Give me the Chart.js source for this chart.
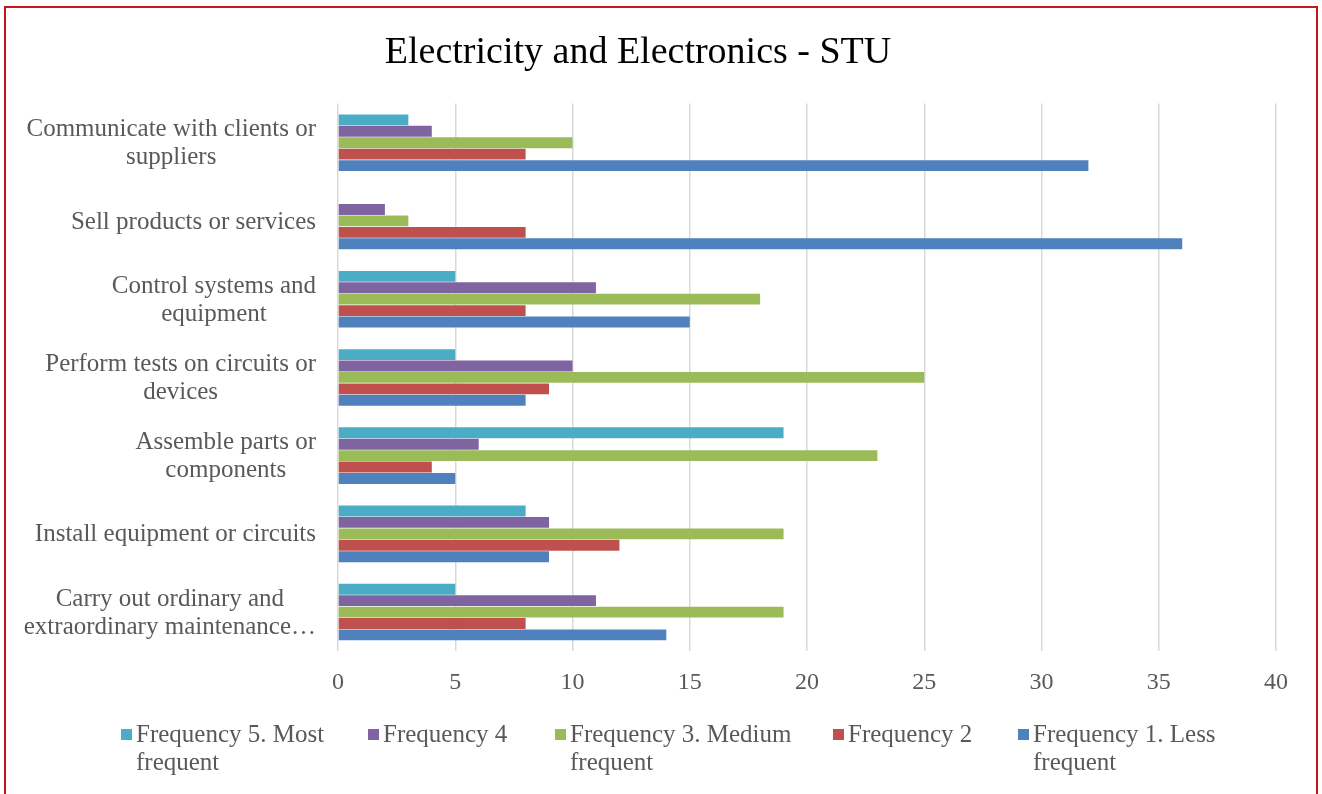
<!DOCTYPE html>
<html>
<head>
<meta charset="utf-8">
<script src="https://cdn.jsdelivr.net/npm/chart.js@4/dist/chart.umd.min.js"></script>
<style>
  body { margin: 0; background: #fff; }
  #wrap { position: relative; width: 1322px; height: 794px; overflow: hidden; font-family: "Liberation Serif", serif; }
  #frame { position: absolute; left: 4px; top: 6px; width: 1314px; height: 800px; border: 2px solid #c4161c; box-sizing: border-box; }
  #legend .item { position: absolute; top: 720px; display: flex; align-items: flex-start; color: #595959; font-size: 25px; line-height: 28px; }
  #legend .swatch { width: 11px; height: 11px; margin-top: 9px; margin-right: 4px; flex: none; }
</style>
</head>
<body>
<div id="wrap">
  <canvas id="myChart" width="1322" height="794"></canvas>
  <div id="frame"></div>
  <div id="legend"></div>
</div>
<script>
// data
const categories = [
  ['Communicate with clients or', 'suppliers'],
  ['Sell products or services'],
  ['Control systems and', 'equipment'],
  ['Perform tests on circuits or', 'devices'],
  ['Assemble parts or', 'components'],
  ['Install equipment or circuits'],
  ['Carry out ordinary and', 'extraordinary maintenance…']
]
const seriesNames = [
  'Frequency 5. Most frequent',
  'Frequency 4',
  'Frequency 3. Medium frequent',
  'Frequency 2',
  'Frequency 1. Less frequent'
]
const freq5 = [3, 0, 5, 5, 19, 8, 5]
const freq4 = [4, 2, 11, 10, 6, 9, 11]
const freq3 = [10, 3, 18, 25, 23, 19, 19]
const freq2 = [8, 8, 8, 9, 4, 12, 8]
const freq1 = [32, 36, 15, 8, 5, 9, 14]
const xTicks = [0, 5, 10, 15, 20, 25, 30, 35, 40]

// styles
const colors = ['#4bacc6', '#8064a2', '#9bbb59', '#c0504d', '#4f81bd']
const textColor = '#595959'
const fontFamily = '"Liberation Serif", serif'

// y labels drawn centered line by line, block right aligned
const yLabelPlugin = {
  id: 'yLabels',
  afterDraw(chart) {
    const ctx = chart.ctx
    const yScale = chart.scales.y
    ctx.save()
    ctx.font = '25px ' + fontFamily
    ctx.fillStyle = textColor
    ctx.textAlign = 'center'
    ctx.textBaseline = 'middle'
    categories.forEach((lines, i) => {
      const y = yScale.getPixelForValue(i)
      const maxW = Math.max(...lines.map(l => ctx.measureText(l).width))
      const cx = 316 - maxW / 2
      lines.forEach((line, j) => {
        ctx.fillText(line, cx, y + 1 + (j - (lines.length - 1) / 2) * 28)
      })
    })
    ctx.restore()
  }
}

const datasets = [freq5, freq4, freq3, freq2, freq1].map((data, i) => ({
  label: seriesNames[i],
  data,
  backgroundColor: colors[i],
  borderWidth: 0,
  categoryPercentage: 0.73,
  barPercentage: 0.95
}))

// init chart
const ctx = document.getElementById('myChart')
new Chart(ctx, {
  type: 'bar',
  data: { labels: categories.map(c => c.join(' ')), datasets },
  options: {
    indexAxis: 'y',
    responsive: false,
    animation: false,
    layout: { padding: { top: 0, right: 46, bottom: 80, left: 0 } },
    plugins: {
      legend: { display: false },
      tooltip: { enabled: false },
      title: {
        display: true,
        text: 'Electricity and Electronics - STU',
        color: '#000',
        font: { family: fontFamily, size: 38, weight: 'normal' },
        padding: { top: 30, bottom: 28 }
      }
    },
    scales: {
      x: {
        min: 0,
        max: 40,
        afterBuildTicks(scale) {
          scale.ticks = xTicks.map(v => ({ value: v }))
        },
        grid: { color: '#d9d9d9', lineWidth: 1.5, drawTicks: false },
        border: { display: false },
        ticks: {
          color: textColor,
          font: { family: fontFamily, size: 24 },
          padding: 17
        }
      },
      y: {
        grid: { display: false },
        border: { display: false },
        ticks: { display: false },
        afterFit(scale) { scale.width = 338 }
      }
    }
  },
  plugins: [yLabelPlugin]
})

// html legend
const legendLeft = [121, 368, 555, 833, 1018]
const legendTextWidth = [200, 200, 232, 200, 200]
const legendEl = document.getElementById('legend')
seriesNames.forEach((name, i) => {
  const item = document.createElement('div')
  item.className = 'item'
  item.style.left = legendLeft[i] + 'px'
  item.innerHTML = '<span class="swatch" style="background:' + colors[i] + '"></span>' +
    '<span style="max-width:' + legendTextWidth[i] + 'px">' + name + '</span>'
  legendEl.appendChild(item)
})
</script>
</body>
</html>
